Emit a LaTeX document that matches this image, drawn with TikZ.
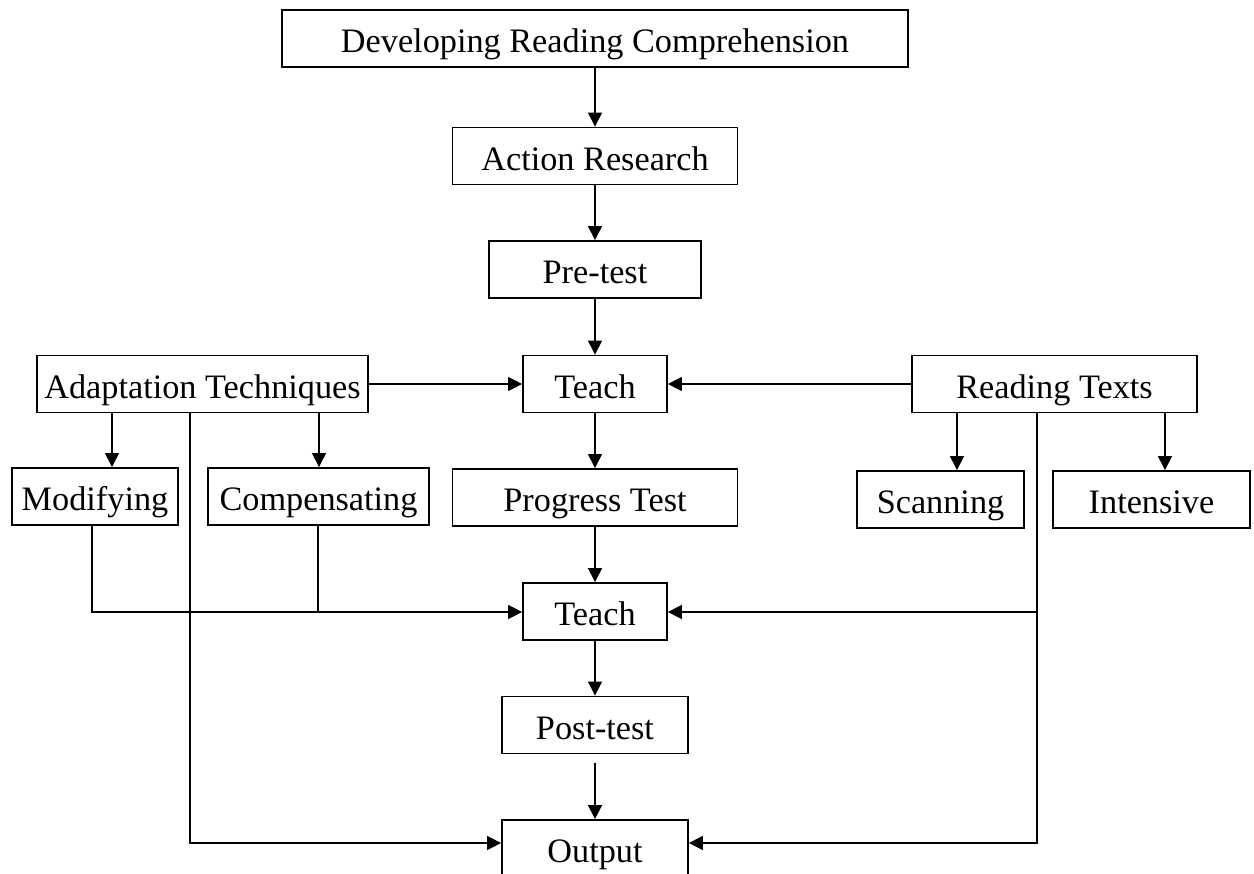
\documentclass[tikz,border=0pt]{standalone}
\usepackage{fontspec}
\setmainfont{Liberation Serif}
\usetikzlibrary{arrows.meta}

\begin{document}
\begin{tikzpicture}[x=0.02cm, y=-0.02cm,
        box/.style={draw, line width=1pt, inner xsep=0pt, inner ysep=0pt,
            text height=24.5pt, text depth=8pt, font=\fontsize{19.5}{23}\selectfont},
        line/.style={line width=0.8pt},
        arr/.style={line, -{Triangle[length=8pt,width=8pt]}}]
                \useasboundingbox (0,0) rectangle (1254,874);
                \clip (0,0) rectangle (1254,874);
                % main column
                \node[box, minimum width=12.52cm] (drc) at (595,38.5) {Developing Reading Comprehension};
                \node[box, minimum width=5.7cm] (ar) at (595,156) {Action Research};
                \node[box, minimum width=4.24cm] (pre) at (595,269.5) {Pre-test};
                \node[box, minimum width=2.88cm] (teachA) at (595,384) {Teach};
                \node[box, minimum width=5.7cm] (prog) at (595,497.5) {Progress Test};
                \node[box, minimum width=2.88cm] (teachB) at (595,611.5) {Teach};
                \node[box, minimum width=3.72cm] (post) at (595,725) {Post-test};
                \node[box, minimum width=3.72cm] (out) at (595,848.5) {Output};
                % side boxes
                \node[box, minimum width=6.62cm] (adapt) at (202.5,384) {Adaptation Techniques};
                \node[box, minimum width=5.7cm] (read) at (1054.5,384) {Reading Texts};
                \node[box, minimum width=3.32cm] (modif) at (95,496.5) {Modifying};
                \node[box, minimum width=4.42cm] (comp) at (318.5,496.5) {Compensating};
                \node[box, minimum width=3.34cm] (scan) at (940.5,499.5) {Scanning};
                \node[box, minimum width=3.94cm] (inten) at (1151.5,499.5) {Intensive};
                % x positions of the branch lines
                \coordinate (m) at (112,0);
                \coordinate (c) at (319,0);
                \coordinate (s) at (957,0);
                \coordinate (i) at (1165,0);
                \coordinate (mb) at (92,612);
                \coordinate (cb) at (318,612);
                \coordinate (rb) at (1037,612);
                \coordinate (al) at (190,843);
                \coordinate (rl) at (1037,843);
                \draw[arr] (drc) -- (ar);
                \draw[arr] (ar) -- (pre);
                \draw[arr] (pre) -- (teachA);
                \draw[arr] (adapt) -- (teachA);
                \draw[arr] (read) -- (teachA);
                \draw[arr] (teachA) -- (prog);
                \draw[arr] (prog) -- (teachB);
                \draw[arr] (teachB) -- (post);
                \draw[arr, shorten <=5pt] (post) -- (out);
                \draw[arr] (adapt.south -| m) -- (modif.north -| m);
                \draw[arr] (adapt.south -| c) -- (comp.north -| c);
                \draw[arr] (read.south -| s) -- (scan.north -| s);
                \draw[arr] (read.south -| i) -- (inten.north -| i);
                \draw[arr] (modif.south -| mb) -- (mb) -- (teachB.west |- mb);
                \draw[line] (comp.south -| cb) -- (cb);
                \draw[arr] (rb) -- (teachB.east |- rb);
                \draw[arr] (adapt.south -| al) -- (al) -- (out.west |- al);
                \draw[arr] (read.south -| rl) -- (rl) -- (out.east |- rl);
            \end{tikzpicture}
\end{document}
